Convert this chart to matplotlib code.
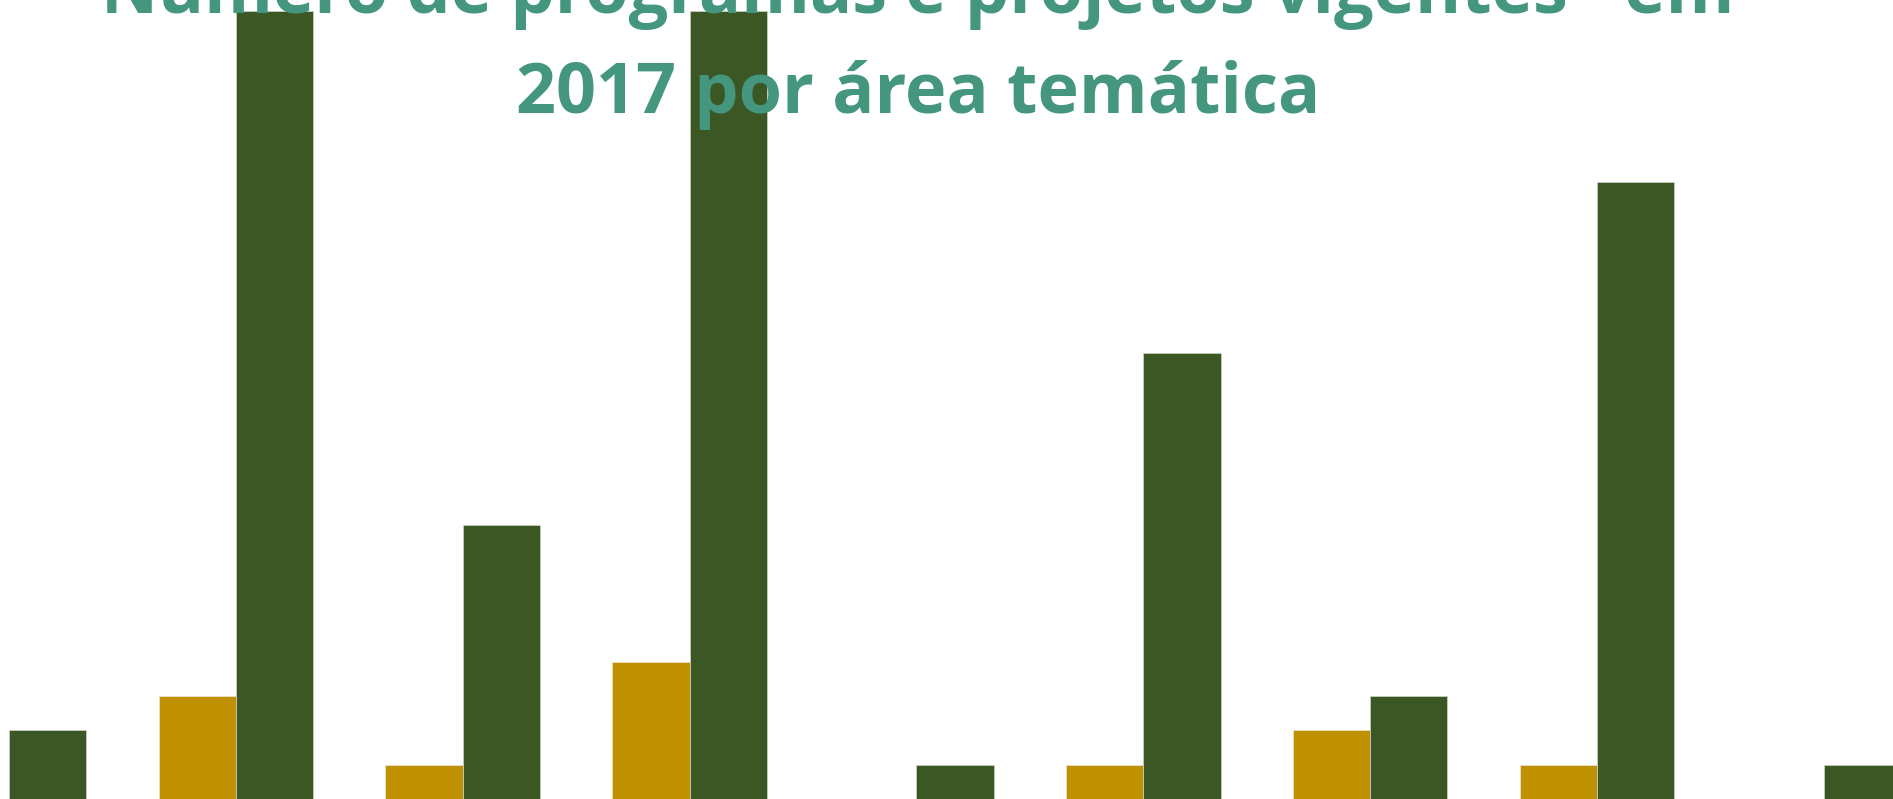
import matplotlib
matplotlib.use("Agg")
import matplotlib.pyplot as plt
import numpy as np

groups = list(range(9))
serie_a = [0, 3, 1, 4, 0, 1, 2, 1, 0]      # gold
serie_b = [2, 23, 8, 23, 1, 13, 3, 18, 1]  # dark green
title_l1 = "Número de programas e projetos vigentes* em"
title_l2 = "2017 por área temática"

W, H, DPI = 1893, 799, 100
fig = plt.figure(figsize=(W / DPI, H / DPI), dpi=DPI)
ax = fig.add_axes([0, 0, 1, 1])

unit_px = 34.28
group_px = 226.85
x0_px = 9.0
bw = 77.3 / group_px

x = np.array(groups, dtype=float)
ax.bar(x - bw, serie_a, width=bw, align="edge", color="#BF9000",
       edgecolor="#E8E0C8", linewidth=0.6)
ax.bar(x, serie_b, width=bw, align="edge", color="#3A5724",
       edgecolor="#C8D0C0", linewidth=0.6)

ax.set_xlim(-x0_px / group_px, (W - x0_px) / group_px)
ax.set_ylim(0, H / unit_px)
ax.axis("off")

fam = ["Open Sans", "DejaVu Sans"]
tc = "#44977E"
cx = 918 / W
fig.text(cx, 1 - 13 / H, title_l1, ha="center", va="baseline",
         fontsize=50.5, fontweight="bold", color=tc, family=fam)
fig.text(cx, 1 - 113 / H, title_l2, ha="center", va="baseline",
         fontsize=50.5, fontweight="bold", color=tc, family=fam)

fig.savefig("out.png", dpi=DPI)
